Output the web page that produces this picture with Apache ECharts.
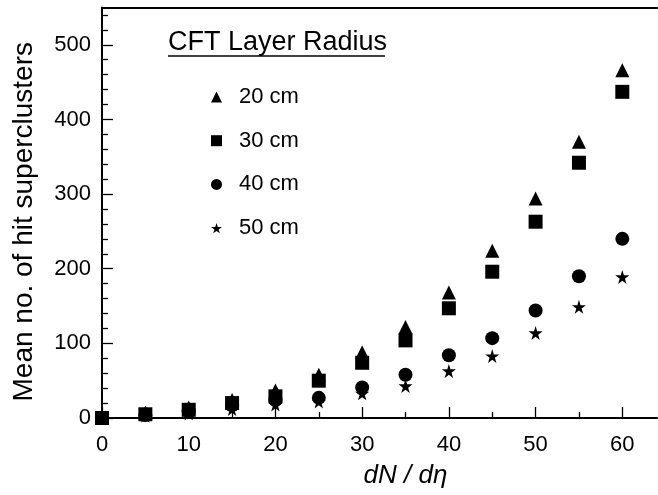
<!DOCTYPE html>
<html>
<head>
<meta charset="utf-8">
<script src="https://cdn.jsdelivr.net/npm/echarts@6/dist/echarts.min.js"></script>
<style>html,body{margin:0;padding:0;background:#fff}#c{width:658px;height:495px}</style>
</head>
<body>
<div id="c"></div>
<script>
// ---- data ----
const dNdEta = [0, 5, 10, 15, 20, 25, 30, 35, 40, 45, 50, 55, 60];
const r20cm = [0, 7, 14, 24, 37, 58, 88, 122, 168, 224, 294, 370, 466];
const r30cm = [0, 5, 11, 20, 29, 50, 74, 104, 147, 196, 263, 342, 437];
const r40cm = [0, 4, 9, 17, 24, 27, 41, 58, 84, 107, 144, 190, 240];
const r50cm = [0, 3, 6, 12, 18, 22, 33, 43, 63, 83, 114, 149, 189];
const seriesNames = ['20 cm', '30 cm', '40 cm', '50 cm'];
const xMajorTicks = [0, 10, 20, 30, 40, 50, 60];
const xMinorTicks = [5, 15, 25, 35, 45, 55];
const yMajorTicks = [0, 100, 200, 300, 400, 500];
const yMinorTicks = [20, 40, 60, 80, 120, 140, 160, 180, 220, 240, 260, 280, 320, 340, 360, 380, 420, 440, 460, 480, 520, 540];

const FONT = '"Liberation Sans", Arial, Helvetica, sans-serif';
const STAR = 'path://M50,0 L61,35 L98,35 L68,57 L79,91 L50,70 L21,91 L32,57 L2,35 L39,35 Z';
const X_MIN = 0, X_MAX = 64, Y_MIN = 0, Y_MAX = 550;

function pairs(ys) { return dNdEta.map((x, i) => [x, ys[i]]); }

const chart = echarts.init(document.getElementById('c'), null, {renderer: 'canvas'});
const tickLine = {color: '#000', width: 1.3};
const axisLine = {show: true, onZero: false, lineStyle: {color: '#000', width: 2}};
const markStyle = {color: '#000', opacity: 1};

chart.setOption({
  animation: false,
  backgroundColor: '#fff',
  textStyle: {fontFamily: FONT, color: '#000'},
  grid: {left: 102, right: 1, top: 7.5, bottom: 77, containLabel: false},
  xAxis: [
    {
      type: 'value', position: 'bottom', min: X_MIN, max: X_MAX, interval: 10,
      axisLine: axisLine,
      axisTick: {show: true, inside: true, length: 11, lineStyle: tickLine, customValues: xMajorTicks},
      axisLabel: {show: true, margin: 16, fontSize: 22, color: '#000', fontFamily: FONT, customValues: xMajorTicks},
      splitLine: {show: false},
      name: 'dN / dη', nameLocation: 'middle', nameGap: 45,
      nameTextStyle: {fontSize: 26, fontStyle: 'italic', color: '#000', fontFamily: FONT, padding: [0, 0, 0, 52]}
    },
    {
      type: 'value', position: 'bottom', min: X_MIN, max: X_MAX, interval: 5,
      axisLine: {show: false},
      axisTick: {show: true, inside: true, length: 6, lineStyle: tickLine, customValues: xMinorTicks},
      axisLabel: {show: false}, splitLine: {show: false}
    },
    {
      type: 'value', position: 'top', min: X_MIN, max: X_MAX,
      axisLine: axisLine, axisTick: {show: false}, axisLabel: {show: false}, splitLine: {show: false}
    }
  ],
  yAxis: [
    {
      type: 'value', position: 'left', min: Y_MIN, max: Y_MAX, interval: 100,
      axisLine: axisLine,
      axisTick: {show: true, inside: true, length: 11, lineStyle: tickLine, customValues: yMajorTicks},
      axisLabel: {show: true, margin: 11, fontSize: 22, color: '#000', fontFamily: FONT, customValues: yMajorTicks},
      splitLine: {show: false},
      name: 'Mean no. of hit superclusters', nameLocation: 'middle', nameGap: 64, nameRotate: 90,
      nameTextStyle: {fontSize: 28, color: '#000', fontFamily: FONT, padding: [0, 18, 0, 0]}
    },
    {
      type: 'value', position: 'left', min: Y_MIN, max: Y_MAX, interval: 20,
      axisLine: {show: false},
      axisTick: {show: true, inside: true, length: 6, lineStyle: tickLine, customValues: yMinorTicks},
      axisLabel: {show: false}, splitLine: {show: false}
    }
  ],
  legend: {
    orient: 'vertical', left: 211, top: 86, padding: 0,
    itemWidth: 11, itemHeight: 11, itemGap: 21.7,
    itemStyle: {opacity: 1},
    textStyle: {fontSize: 22, color: '#000', fontFamily: FONT, lineHeight: 22, padding: [0, 0, 0, 12]},
    data: seriesNames
  },
  graphic: [
    {type: 'text', left: 168, top: 29, style: {text: 'CFT Layer Radius', font: '27px ' + FONT, fill: '#000'}},
    {type: 'line', shape: {x1: 168, y1: 56, x2: 385, y2: 56}, style: {stroke: '#000', lineWidth: 1.5}}
  ],
  series: [
    {name: seriesNames[0], type: 'scatter', symbol: 'triangle', symbolSize: 14, clip: false, itemStyle: markStyle, data: pairs(r20cm)},
    {name: seriesNames[1], type: 'scatter', symbol: 'rect', symbolSize: 14, clip: false, itemStyle: markStyle, data: pairs(r30cm)},
    {name: seriesNames[2], type: 'scatter', symbol: 'circle', symbolSize: 14, clip: false, itemStyle: markStyle, data: pairs(r40cm)},
    {name: seriesNames[3], type: 'scatter', symbol: STAR, symbolSize: 14, clip: false, itemStyle: markStyle, data: pairs(r50cm)}
  ]
});
</script>
</body>
</html>
